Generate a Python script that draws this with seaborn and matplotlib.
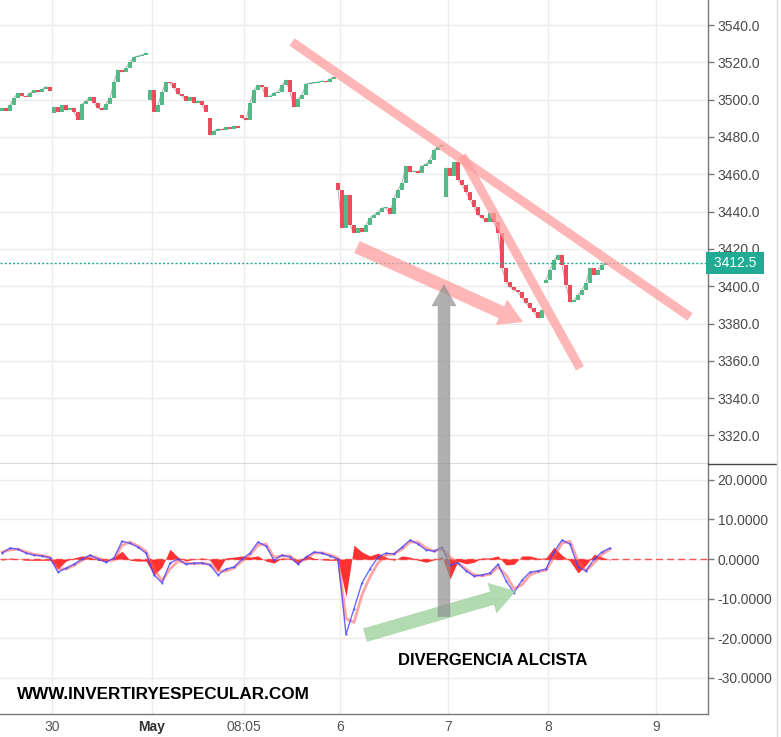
import numpy as np
import matplotlib
matplotlib.use("Agg")
import matplotlib.pyplot as plt
import seaborn as sns

# ---------------- data ----------------
# each session: first value = session open, the rest = closes of consecutive candles
ses_apr30a = [3494.0, 3495.5, 3494.0, 3497.0, 3501.0, 3503.5, 3502.0, 3501.5, 3503.5, 3505.0,
              3504.0, 3505.5, 3507.0, 3504.5]
ses_apr30b = [3492.8, 3496.0, 3493.4, 3497.1, 3494.4, 3495.5, 3493.4, 3489.1, 3497.6, 3499.3,
              3501.4, 3498.2, 3495.5, 3494.4, 3497.6, 3500.9, 3509.4, 3515.9, 3514.8, 3517.0,
              3520.2, 3522.8, 3523.4, 3523.9, 3525.0]
ses_may1 = [3499.8, 3505.2, 3493.4, 3497.1, 3504.1, 3509.4, 3508.9, 3506.2, 3503.0, 3502.0,
            3499.3, 3501.4, 3498.2, 3499.3, 3497.1, 3493.4]
ses_may2 = [3490.2, 3481.0, 3483.2, 3484.3, 3483.7, 3485.3, 3484.3, 3485.9, 3484.8]
ses_may3 = [3491.8, 3490.2, 3489.1, 3498.2, 3505.2, 3507.8, 3506.8, 3501.4, 3501.9, 3503.6,
            3504.1, 3507.8, 3510.5, 3504.1, 3496.0, 3500.3, 3502.5, 3508.4, 3508.9, 3508.9,
            3509.4, 3510.0, 3509.4, 3511.1, 3512.1]
ses_may6 = [3455.3, 3451.6, 3431.2, 3448.9, 3432.8, 3428.5, 3431.2, 3429.0, 3432.8, 3436.6,
            3438.2, 3439.8, 3441.9, 3441.9, 3438.7, 3447.3, 3451.6, 3455.3, 3464.4, 3461.2,
            3461.7, 3460.7, 3464.4, 3465.5, 3467.6, 3473.0, 3474.6, 3475.7]
ses_may7 = [3447.8, 3463.4, 3459.1, 3466.6, 3456.9, 3454.2, 3450.5, 3446.2, 3442.4, 3438.2,
            3436.6, 3434.4, 3439.2, 3434.4, 3428.5, 3409.8, 3402.2, 3399.6, 3398.0, 3396.9,
            3393.7, 3391.0, 3388.3, 3386.2, 3382.9, 3387.2]
ses_may8 = [3401.7, 3403.3, 3408.7, 3414.0, 3416.7, 3411.4, 3400.6, 3391.5, 3392.6, 3395.3,
            3398.0, 3401.7, 3409.8, 3406.0, 3408.7, 3411.4, 3412.5]
sessions = [ses_apr30a, ses_apr30b, ses_may1, ses_may2, ses_may3, ses_may6, ses_may7, ses_may8]

# MACD panel, one reading every second candle
macd_line = [1.5, 2.8, 2.5, 1.5, 1.0, 0.8, 0.3, -3.3, -2.3, -1.3, 0.0, 1.0, 0.0, -0.8, 0.3, 4.5,
             4.0, 3.0, 1.5, -4.0, -6.0, -1.0, 0.0, -1.3, -1.0, -1.0, -1.5, -4.0, -2.5, -2.0, 0.0,
             1.5, 4.3, 3.3, -0.3, 1.0, 0.5, -1.3, 0.5, 1.8, 1.5, 0.8, 0.0, -19.0, -12.5, -6.0,
             -2.5, 0.5, 1.5, 1.3, 3.0, 4.8, 3.8, 2.3, 2.0, 3.0, -1.5, -1.0, -3.0, -4.3, -4.0,
             -3.5, -1.3, -5.5, -8.5, -5.3, -3.3, -3.0, -2.5, 1.8, 4.8, 3.8, -2.0, -3.0, 0.0,
             1.8, 2.8]
signal_line = [1.8, 2.3, 2.5, 1.8, 1.2, 0.9, 0.5, -2.5, -2.5, -1.6, -0.3, 0.8, 0.3, -0.5, -0.2,
               3.5, 4.3, 3.3, 2.0, -2.5, -5.5, -2.5, -0.5, -1.0, -1.2, -1.0, -1.3, -3.0, -3.0,
               -2.2, -0.5, 1.0, 3.5, 3.8, 0.5, 0.8, 0.8, -0.8, 0.0, 1.5, 1.6, 1.0, 0.3, -15.0,
               -16.0, -9.0, -4.5, -1.0, 1.0, 1.3, 2.5, 4.3, 4.3, 2.8, 2.0, 2.5, 0.5, -1.0, -2.5,
               -4.0, -4.2, -3.8, -2.0, -4.0, -7.5, -6.5, -4.0, -3.2, -2.8, 0.5, 4.0, 4.5, -0.5,
               -3.0, -1.0, 1.2, 2.5]
histogram = [-0.3, 0.3, 0.0, -0.3, -0.3, -0.3, -0.3, -2.5, -0.5, 0.3, 0.8, 0.5, -0.3, -0.5, 0.5,
             2.0, -0.3, -0.5, -0.5, -4.0, -2.0, 2.5, 0.5, -0.5, 0.0, 0.3, -0.3, -3.0, 0.3, 0.5,
             0.8, 0.5, 0.8, -0.5, -1.0, 0.3, 0.2, -1.2, 1.0, 0.2, -0.2, -0.3, -0.3, -9.5, 3.5,
             1.8, 0.8, 1.5, 0.5, -0.3, 0.8, 0.5, -0.3, -0.8, -0.2, 0.6, -5.0, -0.5, -1.2, -0.8,
             0.3, 0.3, 0.8, -1.5, -1.3, 0.8, 0.8, 0.2, 0.3, 3.0, 1.0, -0.5, -3.5, -1.5, 1.2,
             0.5, -0.3]

price_ticks = [3320, 3340, 3360, 3380, 3400, 3420, 3440, 3460, 3480, 3500, 3520, 3540]
macd_ticks = [20, 10, 0, -10, -20, -30]
x_tick_labels = ["30", "May", "08:05", "6", "7", "8", "9"]
x_tick_pos = [12.5, 37.5, 60.5, 84.5, 111.5, 136.5, 163.5]
last_price = 3412.5

# annotation anchors (candle index, value)
trend1 = [(72.5, 3530.9), (172.0, 3383.5)]
trend2 = [(115.0, 3470.0), (144.5, 3356.0)]
pink_arrow = [(88.75, 3421.0), (130.25, 3380.8)]
grey_arrow = [(110.5, -14.6), (110.5, 3401.2)]
green_arrow = [(90.75, -19.2), (128.5, -8.1)]

# ---------------- figure ----------------
sns.set_theme(style="white")
plt.rcParams["font.family"] = ["Liberation Sans", "DejaVu Sans"]

W, H = 781, 737
fig = plt.figure(figsize=(W / 100, H / 100), dpi=100)
ax1 = fig.add_axes([0, (H - 464) / H, 708 / W, 464 / H])
ax2 = fig.add_axes([0, (H - 714) / H, 708 / W, (714 - 464) / H])

grid_c = "#ececec"
up_c, dn_c = "#53b987", "#eb4d5c"

opens, closes, sess_id = [], [], []
for k, s in enumerate(sessions):
    opens += [s[0]] + s[1:-1]
    closes += s[1:]
    sess_id += [k] * (len(s) - 1)
opens = np.array(opens)
closes = np.array(closes)
sess_id = np.array(sess_id)
xi = np.arange(len(closes))
body = closes - opens
body = np.where(np.abs(body) < 0.5, np.where(body >= 0, 0.5, -0.5), body)
up = closes >= opens

for ax in (ax1, ax2):
    ax.set_xlim(-0.5, 176.5)
    for xt in x_tick_pos:
        ax.axvline(xt, color=grid_c, lw=1, zorder=0)
    ax.set_facecolor("white")
    for sp in ("left", "top"):
        ax.spines[sp].set_visible(False)
    ax.spines["right"].set_color("#777777")
    ax.spines["right"].set_linewidth(1)
    ax.yaxis.tick_right()
    ax.tick_params(axis="y", direction="out", length=4, width=1, color="#777777",
                   labelsize=10, labelcolor="#4a4a4a", pad=3, right=True, left=False)

# ---- price panel
ax1.set_ylim(3304.7, 3553.4)
for yt in price_ticks:
    ax1.axhline(yt, color=grid_c, lw=1, zorder=0)
# thin grey trace of the closes inside each session (wick-like texture)
for k in range(len(sessions)):
    m = sess_id == k
    ax1.plot(xi[m], closes[m], color="#7a7a7a", lw=0.8, alpha=0.55, zorder=2)
ax1.bar(xi[up], body[up], bottom=opens[up], width=0.8, color=up_c, linewidth=0, zorder=3)
ax1.bar(xi[~up], body[~up], bottom=opens[~up], width=0.8, color=dn_c, linewidth=0, zorder=3)
ax1.set_yticks(price_ticks)
ax1.set_yticklabels([f"{v:.1f}" for v in price_ticks])
ax1.set_xticks([])
ax1.spines["bottom"].set_color("#444444")
ax1.spines["bottom"].set_linewidth(1)
ax1.axhline(last_price, color="#22ab94", lw=1, ls=(0, (1.5, 1.5)), zorder=4)
ax1.text(1.003, last_price, " 3412.5 ", transform=ax1.get_yaxis_transform(),
         ha="left", va="center", fontsize=10, color="white", clip_on=False,
         bbox=dict(boxstyle="square,pad=0.28", fc="#22ab94", ec="none"), zorder=6)

pink = "#ff9e9e"
for seg in (trend1, trend2):
    ax1.plot([seg[0][0], seg[1][0]], [seg[0][1], seg[1][1]], color=pink, lw=6.5,
             alpha=0.75, solid_capstyle="butt", zorder=5)
ax1.annotate("", xy=pink_arrow[1], xytext=pink_arrow[0],
             arrowprops=dict(arrowstyle="simple,head_length=0.85,head_width=1.0,tail_width=0.47",
                             mutation_scale=20, fc=pink, ec="none", alpha=0.75,
                             shrinkA=0, shrinkB=0), zorder=5)

# ---- MACD panel
ax2.set_ylim(-39.1, 24.0)
for yt in macd_ticks:
    ax2.axhline(yt, color=grid_c, lw=1, zorder=0)
mx = np.arange(0, len(macd_line) * 2, 2)
ax2.fill_between(mx, 0, histogram, color="#ff1a1a", alpha=0.9, linewidth=0, zorder=2)
ax2.axhline(0, color="#ff3030", lw=1, ls=(0, (5, 3)), alpha=0.8, zorder=2)
sns.lineplot(x=mx, y=signal_line, ax=ax2, color="#ff5a5a", lw=2, alpha=0.55, zorder=3)
sns.lineplot(x=mx, y=macd_line, ax=ax2, color="#4545ff", lw=1, alpha=0.8, marker="o",
             markersize=1.6, markeredgewidth=0, zorder=4)
ax2.set_yticks(macd_ticks)
ax2.set_yticklabels([f"{v:.4f}" for v in macd_ticks])
ax2.set_xticks(x_tick_pos)
ax2.set_xticklabels(x_tick_labels)
ax2.tick_params(axis="x", length=2, color="#999999", labelsize=10, labelcolor="#555555", pad=2)
for lab in ax2.get_xticklabels():
    lab.set_family(["Liberation Sans Narrow", "Liberation Sans", "DejaVu Sans"])
    if lab.get_text() == "May":
        lab.set_fontweight("bold")
        lab.set_color("#333333")
ax2.spines["bottom"].set_color("#777777")
ax2.spines["bottom"].set_linewidth(1)
ax2.spines["top"].set_visible(False)

ax2.annotate("", xy=green_arrow[1], xytext=green_arrow[0],
             arrowprops=dict(arrowstyle="simple,head_length=0.9,head_width=1.15,tail_width=0.5",
                             mutation_scale=20, fc="#99cf99", ec="none", alpha=0.75,
                             shrinkA=0, shrinkB=0), zorder=6)
ax2.annotate("", xy=grey_arrow[1], xycoords=ax1.transData, xytext=grey_arrow[0],
             textcoords=ax2.transData, annotation_clip=False,
             arrowprops=dict(arrowstyle="simple,head_length=0.8,head_width=0.9,tail_width=0.45",
                             mutation_scale=20, fc="#8f8f8f", ec="none", alpha=0.7,
                             shrinkA=0, shrinkB=0), zorder=7)

ax2.text(122.75, -25.5, "DIVERGENCIA ALCISTA", ha="center", va="center", fontsize=12,
         fontweight="bold", color="black",
         family=["Liberation Sans", "DejaVu Sans"])
ax2.text(3.75, -34.3, "WWW.INVERTIRYESPECULAR.COM", ha="left", va="center", fontsize=12.3,
         fontweight="bold", color="black",
         family=["Liberation Sans Narrow", "Liberation Sans", "DejaVu Sans"])

# separator extending under the price scale and right edge line
fig.add_artist(plt.Line2D([708 / W, 777 / W], [(H - 464) / H] * 2, color="#444444", lw=1))
fig.add_artist(plt.Line2D([777 / W] * 2, [0, 1], color="#dddddd", lw=1))

fig.savefig("out.png", dpi=100)
